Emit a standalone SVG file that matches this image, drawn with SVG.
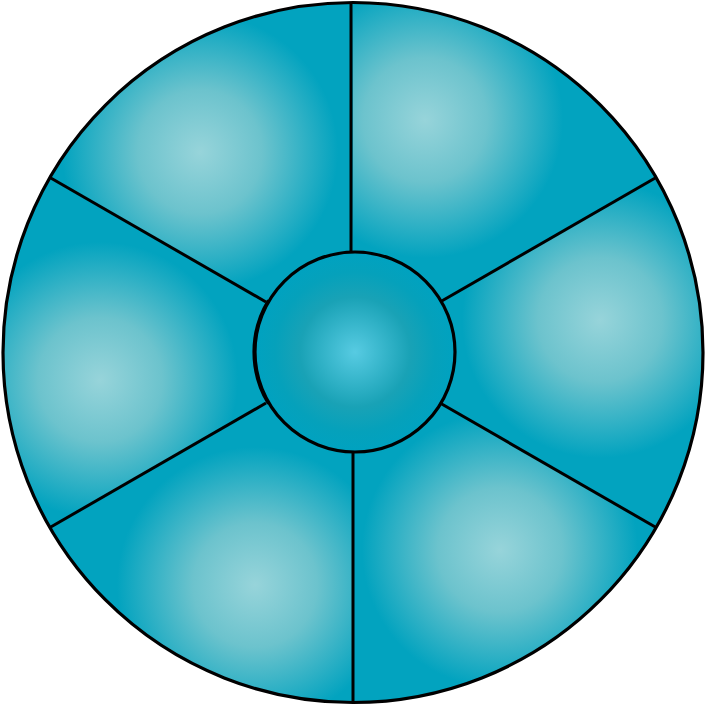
<svg xmlns="http://www.w3.org/2000/svg" width="706" height="705" viewBox="0 0 706 705">
<style>
.seg{stroke:none}
.ln{stroke:#000;stroke-width:3;fill:none;stroke-linecap:butt}
.edge{stroke:#000;stroke-width:3.2}
</style>
<defs>
<radialGradient id="gTL" gradientUnits="userSpaceOnUse" cx="200" cy="152" r="138"><stop offset="0" stop-color="#97d4da"/><stop offset="0.45" stop-color="#6cc3cd"/><stop offset="1" stop-color="#02a3bf"/></radialGradient>
<radialGradient id="gTR" gradientUnits="userSpaceOnUse" cx="425" cy="120" r="138"><stop offset="0" stop-color="#97d4da"/><stop offset="0.45" stop-color="#6cc3cd"/><stop offset="1" stop-color="#02a3bf"/></radialGradient>
<radialGradient id="gR" gradientUnits="userSpaceOnUse" cx="600" cy="320" r="138"><stop offset="0" stop-color="#97d4da"/><stop offset="0.45" stop-color="#6cc3cd"/><stop offset="1" stop-color="#02a3bf"/></radialGradient>
<radialGradient id="gBR" gradientUnits="userSpaceOnUse" cx="500" cy="550" r="138"><stop offset="0" stop-color="#97d4da"/><stop offset="0.45" stop-color="#6cc3cd"/><stop offset="1" stop-color="#02a3bf"/></radialGradient>
<radialGradient id="gBL" gradientUnits="userSpaceOnUse" cx="255" cy="585" r="138"><stop offset="0" stop-color="#97d4da"/><stop offset="0.45" stop-color="#6cc3cd"/><stop offset="1" stop-color="#02a3bf"/></radialGradient>
<radialGradient id="gL" gradientUnits="userSpaceOnUse" cx="100" cy="380" r="138"><stop offset="0" stop-color="#97d4da"/><stop offset="0.45" stop-color="#6cc3cd"/><stop offset="1" stop-color="#02a3bf"/></radialGradient>
<radialGradient id="gC" gradientUnits="userSpaceOnUse" cx="355" cy="352" r="100"><stop offset="0" stop-color="#57cbe2"/><stop offset="0.55" stop-color="#19a2b6"/><stop offset="0.8" stop-color="#05a1bb"/><stop offset="1" stop-color="#00a2c0"/></radialGradient>
</defs>
<g id="segments">
<g id="seg-top-right"><path class="seg" fill="url(#gTR)" d="M353,352.5 L353,2.5 A350,350 0 0 1 656.1,177.5 Z"/></g>
<g id="seg-right"><path class="seg" fill="url(#gR)" d="M353,352.5 L656.1,177.5 A350,350 0 0 1 656.1,527.5 Z"/></g>
<g id="seg-bottom-right"><path class="seg" fill="url(#gBR)" d="M353,352.5 L656.1,527.5 A350,350 0 0 1 353,702.5 Z"/></g>
<g id="seg-bottom-left"><path class="seg" fill="url(#gBL)" d="M353,352.5 L353,702.5 A350,350 0 0 1 49.9,527.5 Z"/></g>
<g id="seg-left"><path class="seg" fill="url(#gL)" d="M353,352.5 L49.9,527.5 A350,350 0 0 1 49.9,177.5 Z"/></g>
<g id="seg-top-left"><path class="seg" fill="url(#gTL)" d="M353,352.5 L49.9,177.5 A350,350 0 0 1 353,2.5 Z"/></g>
</g>
<g id="connectors">
<line class="ln" x1="351" y1="3" x2="351" y2="253"/>
<line class="ln" x1="656.1" y1="177.5" x2="440" y2="302"/>
<line class="ln" x1="656.1" y1="527.5" x2="440" y2="403"/>
<line class="ln" x1="353" y1="702" x2="353" y2="452"/>
<line class="ln" x1="49.9" y1="527.5" x2="266" y2="403"/>
<line class="ln" x1="49.9" y1="177.5" x2="266" y2="302"/>
</g>
<g id="outer-ring"><circle cx="353" cy="352.5" r="350" fill="none" class="edge"/></g>
<g id="center"><circle cx="355" cy="352" r="100" fill="url(#gC)" class="edge"/><path d="M270,300 A100,100 0 0 0 270,404" fill="none" stroke="#000" stroke-width="2" transform="translate(-2,0)"/></g>
</svg>
